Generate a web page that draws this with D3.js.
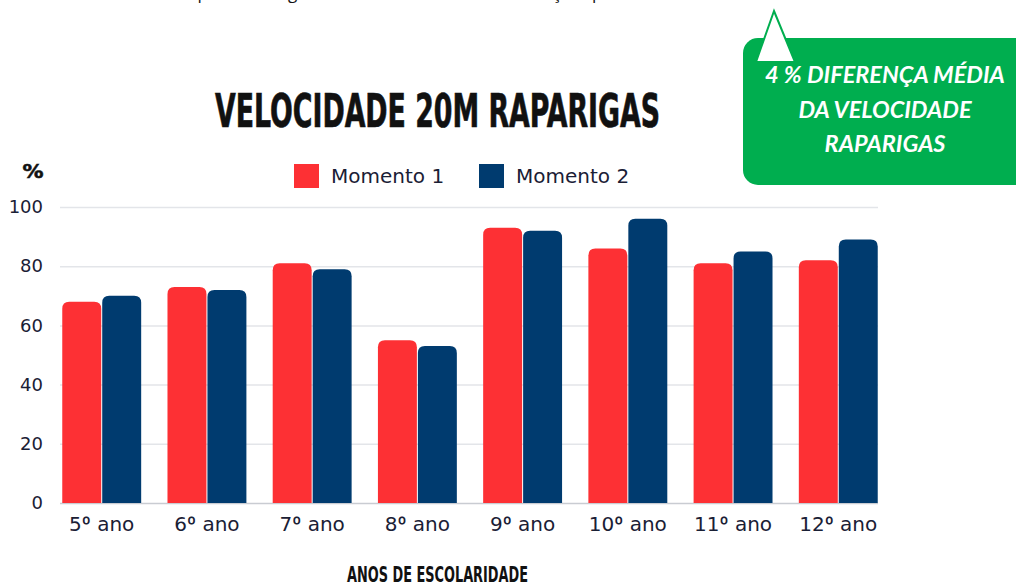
<!DOCTYPE html>
<html>
<head>
<meta charset="utf-8">
<script src="https://cdn.jsdelivr.net/npm/d3@7"></script>
<style>
  body { margin: 0; background: #fff; }
  svg { display: block; }
</style>
</head>
<body>
<script>
// data
const anos = ["5º ano", "6º ano", "7º ano", "8º ano", "9º ano", "10º ano", "11º ano", "12º ano"];
const momento1 = [68, 73, 81, 55, 93, 86, 81, 82];
const momento2 = [70, 72, 79, 53, 92, 96, 85, 89];
const series = ["Momento 1", "Momento 2"];
const cores = ["#fd3034", "#003b6f"];
const yTicks = [0, 20, 40, 60, 80, 100];

const width = 1016;
const height = 583;

const svg = d3.select('body')
  .append('svg')
  .attr('width', width)
  .attr('height', height);

// line of the document above the chart, cut by the crop (only descenders show)
const topo = [["após", 188], ["geral", 288], ["ação", 543], ["pelo", 592]];
svg.append('text')
  .attr('y', -1)
  .attr('font-family', 'Open Sans, sans-serif')
  .attr('font-size', 17)
  .attr('fill', '#111')
  .selectAll('tspan')
  .data(topo)
  .enter()
  .append('tspan')
  .attr('x', d => d[1])
  .text(d => d[0]);

const x = d3.scaleBand()
  .domain(anos)
  .range([57, 883])
  .paddingInner(0.25)
  .paddingOuter(0.05);

const x1 = d3.scaleBand()
  .domain(series)
  .range([0, x.bandwidth()])
  .paddingInner(0.025);

const y = d3.scaleLinear()
  .domain([0, 100])
  .range([503, 207]);

// grid
svg.append('g')
  .selectAll('line')
  .data(yTicks)
  .enter()
  .append('line')
  .attr('x1', 60)
  .attr('x2', 878)
  .attr('y1', d => y(d) + 0.5)
  .attr('y2', d => y(d) + 0.5)
  .attr('stroke', d => d === 0 ? '#c9ccd2' : '#e3e5e9')
  .attr('stroke-width', 1.5);

// y axis labels
const yAxis = d3.axisLeft(y).tickValues(yTicks).tickSize(0).tickPadding(0);
const gy = svg.append('g')
  .attr('transform', 'translate(43,0)')
  .call(yAxis);
gy.select('.domain').remove();
gy.selectAll('text')
  .attr('font-family', 'DejaVu Sans, sans-serif')
  .attr('font-size', 18)
  .attr('fill', '#1a2035');

svg.append('text')
  .attr('x', 33)
  .attr('y', 178)
  .attr('text-anchor', 'middle')
  .attr('textLength', 21)
  .attr('lengthAdjust', 'spacingAndGlyphs')
  .attr('font-family', 'DejaVu Sans Condensed, Liberation Sans Narrow, sans-serif')
  .attr('font-weight', 'bold')
  .attr('font-size', 19)
  .attr('fill', '#111')
  .attr('stroke', '#111')
  .attr('stroke-width', 0.5)
  .text('%');

// bars with rounded tops
function barPath(bx, by, bw, bh, r) {
  r = Math.min(r, bh, bw / 2);
  return `M${bx},${by + bh}V${by + r}Q${bx},${by} ${bx + r},${by}H${bx + bw - r}Q${bx + bw},${by} ${bx + bw},${by + r}V${by + bh}Z`;
}

const rows = anos.map((a, i) => ({ ano: a, vals: [momento1[i], momento2[i]] }));

const groups = svg.append('g')
  .selectAll('g')
  .data(rows)
  .enter()
  .append('g')
  .attr('transform', d => `translate(${x(d.ano)},0)`);

groups.selectAll('path')
  .data(d => d.vals.map((v, j) => ({ s: series[j], v: v, j: j })))
  .enter()
  .append('path')
  .attr('d', d => barPath(x1(d.s), y(d.v), x1.bandwidth(), y(0) - y(d.v), 7))
  .attr('fill', d => cores[d.j]);

// x axis labels
const xAxis = d3.axisBottom(x).tickSize(0).tickPadding(0);
const gx = svg.append('g')
  .attr('transform', 'translate(0,531)')
  .call(xAxis);
gx.select('.domain').remove();
gx.selectAll('text')
  .attr('dy', 0)
  .attr('font-family', 'DejaVu Sans, sans-serif')
  .attr('font-size', 20)
  .attr('fill', '#1a2035')
  .each(function (d) {
    // ordinal sign without the underline DejaVu draws
    const parts = d.split('º');
    const t = d3.select(this).text(parts[0]);
    t.append('tspan').attr('font-family', 'Inter, Lato, sans-serif').text('º');
    t.append('tspan').text(parts[1]);
  });

// title
svg.append('text')
  .attr('x', 215)
  .attr('y', 127)
  .attr('textLength', 445)
  .attr('lengthAdjust', 'spacingAndGlyphs')
  .attr('font-family', 'DejaVu Sans Condensed, Liberation Sans Narrow, sans-serif')
  .attr('font-weight', 'bold')
  .attr('font-size', 46)
  .attr('fill', '#111')
  .attr('stroke', '#111')
  .attr('stroke-width', 0.7)
  .text('VELOCIDADE 20M RAPARIGAS');

// x axis title
svg.append('text')
  .attr('x', 347)
  .attr('y', 582)
  .attr('textLength', 181)
  .attr('lengthAdjust', 'spacingAndGlyphs')
  .attr('font-family', 'DejaVu Sans Condensed, Liberation Sans Narrow, sans-serif')
  .attr('font-weight', 'bold')
  .attr('font-size', 22)
  .attr('fill', '#111')
  .text('ANOS DE ESCOLARIDADE');

// legend
const legX = [294, 479];
const leg = svg.append('g')
  .selectAll('g')
  .data(series)
  .enter()
  .append('g')
  .attr('transform', (d, i) => `translate(${legX[i]},164)`);

leg.append('rect')
  .attr('width', 25)
  .attr('height', 24)
  .attr('fill', (d, i) => cores[i]);

leg.append('text')
  .attr('x', 37)
  .attr('y', 19)
  .attr('font-family', 'DejaVu Sans, sans-serif')
  .attr('font-size', 20)
  .attr('fill', '#1a2035')
  .text(d => d);

// green callout
const verde = '#00ae4f';
svg.append('rect')
  .attr('x', 743)
  .attr('y', 38)
  .attr('width', 290)
  .attr('height', 147)
  .attr('rx', 15)
  .attr('fill', verde);

svg.append('path')
  .attr('d', 'M774,11L795,62L756,62Z')
  .attr('fill', '#fff')
  .attr('stroke', verde)
  .attr('stroke-width', 2)
  .attr('stroke-linejoin', 'miter');

const notas = ["4 % DIFERENÇA MÉDIA", "DA VELOCIDADE", "RAPARIGAS"];
svg.append('g')
  .selectAll('text')
  .data(notas)
  .enter()
  .append('text')
  .attr('x', 885)
  .attr('y', (d, i) => [83, 118, 152][i])
  .attr('text-anchor', 'middle')
  .attr('font-family', 'Lato, Open Sans, sans-serif')
  .attr('font-style', 'italic')
  .attr('font-weight', 'bold')
  .attr('font-size', 23.5)
  .attr('fill', '#fff')
  .text(d => d);
</script>
</body>
</html>
